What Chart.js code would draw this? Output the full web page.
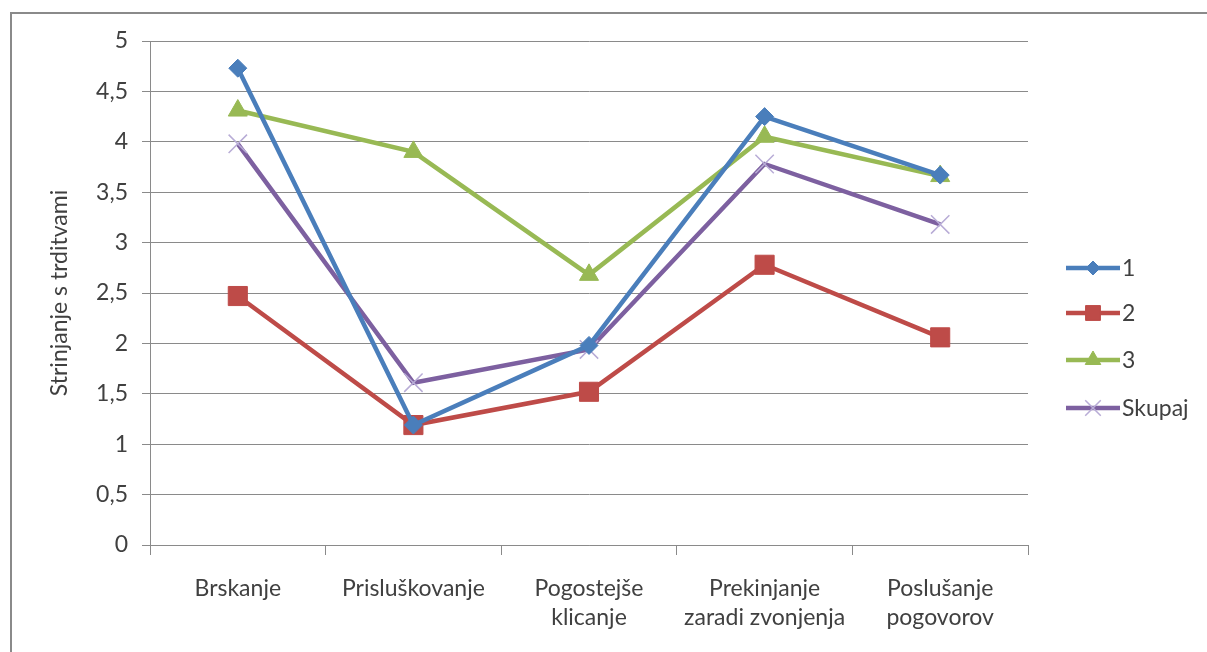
<!DOCTYPE html>
<html>
<head>
<meta charset="utf-8">
<script src="https://cdn.jsdelivr.net/npm/chart.js@4/dist/chart.umd.min.js"></script>
<style>
html,body{margin:0;padding:0;background:#fff;}
#wrap{position:absolute;left:0;top:0;width:1207px;height:652px;overflow:hidden;}
#frame{position:absolute;left:10px;top:12px;width:1220px;height:700px;border-left:2px solid #8a8a8a;border-top:2px solid #8a8a8a;}
canvas{position:absolute;left:0;top:0;}
</style>
</head>
<body>
<div id="wrap">
<div id="frame"></div>
<canvas id="c" width="1207" height="652"></canvas>
</div>
<script>
const categories = [
  "Brskanje",
  "Prisluškovanje",
  ["Pogostejše", "klicanje"],
  ["Prekinjanje", "zaradi zvonjenja"],
  ["Poslušanje", "pogovorov"]
];
const seriesNames = ["1", "2", "3", "Skupaj"];
const series1 = [4.73, 1.19, 1.98, 4.25, 3.67];
const series2 = [2.47, 1.19, 1.52, 2.78, 2.06];
const series3 = [4.31, 3.90, 2.68, 4.05, 3.66];
const seriesSkupaj = [3.98, 1.61, 1.94, 3.78, 3.18];
const yTicks = [0, 0.5, 1, 1.5, 2, 2.5, 3, 3.5, 4, 4.5, 5];
const yTitle = "Strinjanje s trditvami";

const FONT = "Lato, 'Open Sans', sans-serif";
const FS = 23;
const TXT = "#404040";

const styles = [
  {color:"#4A7EBB", point:"rectRot", r:9, pColor:"#4A7EBB", pw:1, lr:7},
  {color:"#BE4B48", point:"rect", r:13.5, pColor:"#BE4B48", pw:1, lr:10.5},
  {color:"#98B954", point:"triangle", r:11, pColor:"#98B954", pw:1, lr:9},
  {color:"#7D60A0", point:"crossRot", r:13, pColor:"#B8ACD6", pw:1.5, lr:11}
];
const values = [series1, series2, series3, seriesSkupaj];

const datasets = values.map((v, i) => ({
  label: seriesNames[i],
  data: v,
  borderColor: styles[i].color,
  backgroundColor: styles[i].pColor,
  borderWidth: 4.5,
  pointStyle: styles[i].point,
  pointRadius: styles[i].r,
  pointHoverRadius: styles[i].r,
  pointBackgroundColor: styles[i].pColor,
  pointBorderColor: styles[i].pColor,
  pointBorderWidth: styles[i].pw,
  legendRadius: styles[i].lr,
  tension: 0,
  fill: false
}));

const legendPlugin = {
  id: "customLegend",
  afterDraw(chart) {
    const ctx = chart.ctx;
    const x0 = 1066, x1 = 1120;
    const ys = [268, 313, 360, 408];
    ctx.save();
    chart.data.datasets.forEach((ds, i) => {
      const y = ys[i];
      ctx.strokeStyle = ds.borderColor;
      ctx.lineWidth = 4.5;
      ctx.lineCap = "butt";
      ctx.beginPath();
      ctx.moveTo(x0, y);
      ctx.lineTo(x1, y);
      ctx.stroke();
      ctx.fillStyle = ds.pointBackgroundColor;
      ctx.strokeStyle = ds.pointBorderColor;
      ctx.lineWidth = ds.pointBorderWidth;
      Chart.helpers.drawPoint(ctx, {pointStyle: ds.pointStyle, radius: ds.legendRadius, borderWidth: ds.pointBorderWidth, rotation: 0}, (x0 + x1) / 2, y);
      ctx.fillStyle = TXT;
      ctx.font = FS + "px " + FONT;
      ctx.textBaseline = "middle";
      ctx.textAlign = "left";
      ctx.fillText(ds.label, x1 + 2, y + 1);
    });
    ctx.restore();
  }
};

new Chart(document.getElementById("c"), {
  type: "line",
  data: { labels: categories, datasets: datasets },
  plugins: [legendPlugin],
  options: {
    responsive: false,
    animation: false,
    layout: { padding: { left: 40, right: 179, top: 41, bottom: 0 } },
    plugins: { legend: { display: false }, tooltip: { enabled: false } },
    scales: {
      x: {
        type: "category",
        offset: true,
        grid: { offset: true, drawOnChartArea: false, drawTicks: true, tickLength: 10, color: "#8a8a8a", lineWidth: 1 },
        border: { display: true, color: "#8a8a8a", width: 1 },
        ticks: { color: TXT, font: { family: FONT, size: FS, lineHeight: 1.25 }, padding: 19, maxRotation: 0, autoSkip: false },
        afterFit(scale) { scale.height = 107; }
      },
      y: {
        min: 0, max: 5,
        afterBuildTicks(scale) { scale.ticks = yTicks.map(v => ({ value: v })); },
        grid: { color: "#8a8a8a", lineWidth: 1, tickLength: 8, drawTicks: true },
        border: { display: true, color: "#8a8a8a", width: 1 },
        ticks: {
          color: TXT, font: { family: FONT, size: FS }, padding: 14,
          callback: v => String(v).replace(".", ",")
        },
        title: { display: true, text: yTitle, color: TXT, font: { family: FONT, size: FS }, padding: { top: 6, bottom: 0 } },
        afterFit(scale) { scale.width = 110; }
      }
    }
  }
});
</script>
</body>
</html>
